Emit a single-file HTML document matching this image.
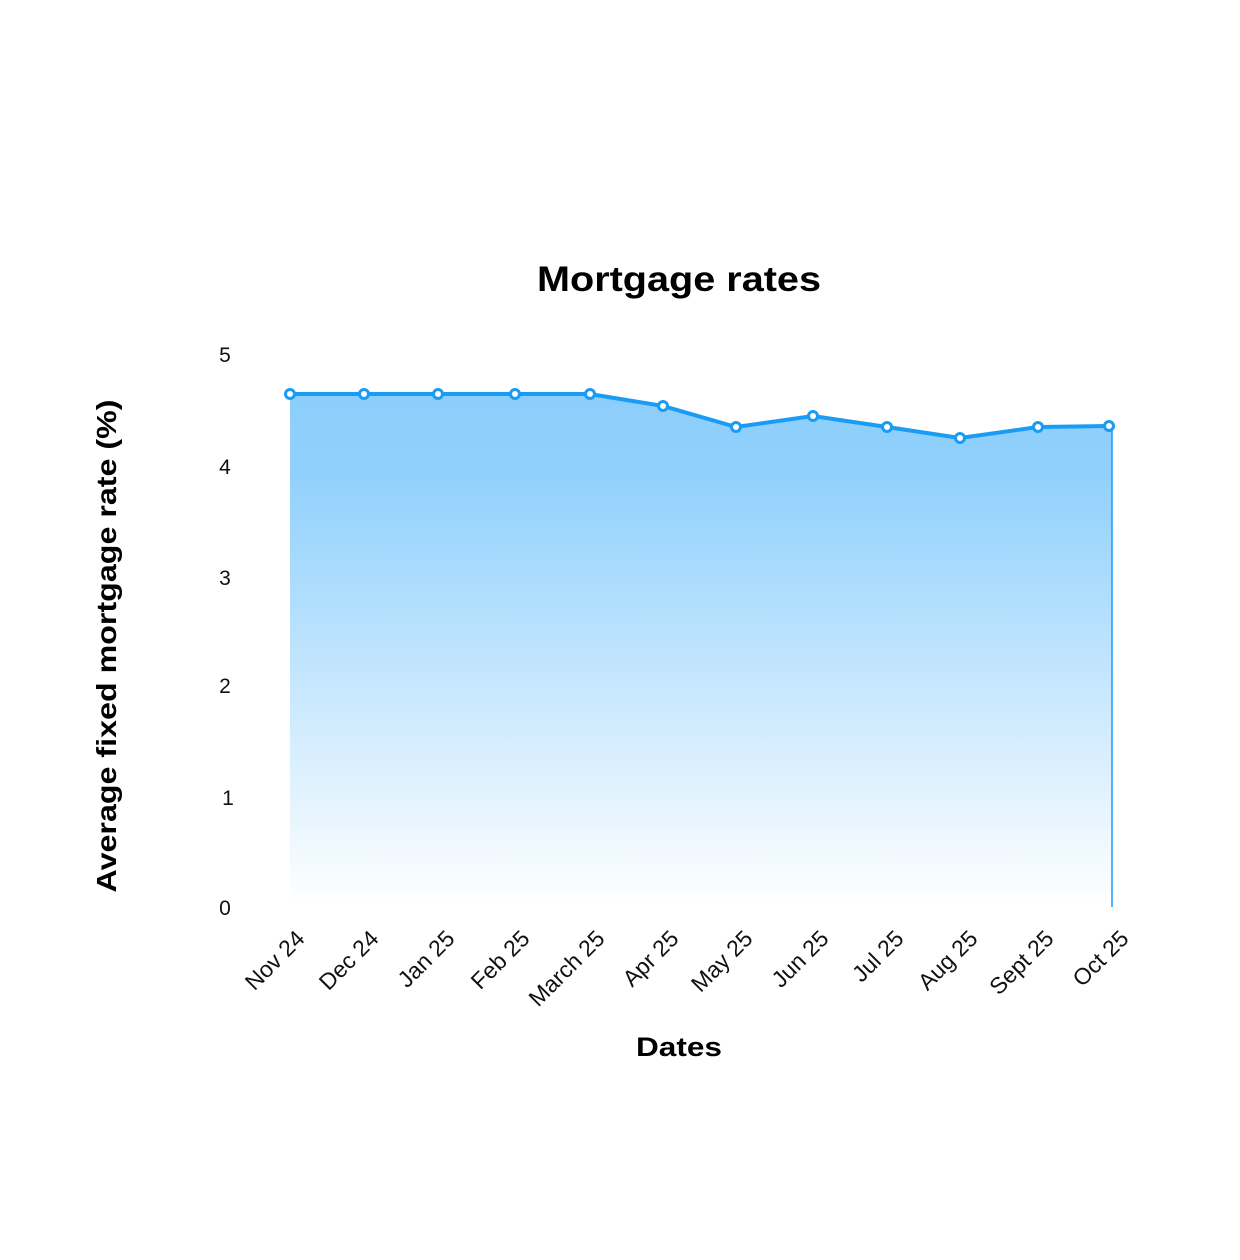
<!DOCTYPE html>
<html><head><meta charset="utf-8"><style>
html,body{margin:0;padding:0;background:#fff;}
svg text{font-family:"Liberation Sans",sans-serif;}
</style></head><body>
<svg width="1240" height="1255" viewBox="0 0 1240 1255" xmlns="http://www.w3.org/2000/svg">
<defs>
<linearGradient id="g" x1="0" y1="0" x2="0" y2="1">
<stop offset="0" stop-color="#8ccefb"/>
<stop offset="0.15" stop-color="#90d0fc"/>
<stop offset="1" stop-color="#ffffff"/>
</linearGradient>
</defs>
<text x="679" y="291" text-anchor="middle" font-size="35" font-weight="bold" fill="#000" textLength="284" lengthAdjust="spacingAndGlyphs">Mortgage rates</text>
<g font-size="21" fill="#111" text-anchor="middle">
<text x="225" y="362">5</text>
<text x="225" y="474">4</text>
<text x="225" y="585">3</text>
<text x="225" y="693">2</text>
<text x="228" y="805">1</text>
<text x="225" y="915">0</text>
</g>
<text transform="translate(116,646) rotate(-90)" text-anchor="middle" font-size="28" font-weight="bold" fill="#000" textLength="493" lengthAdjust="spacingAndGlyphs">Average fixed mortgage rate (%)</text>
<path d="M290,394 L364,394 L438,394 L515,394 L590,394 L663,406 L736,427 L813,416 L887,427 L960,438 L1038,427 L1112,426 L1112,907 L290,907 Z" fill="url(#g)"/>
<line x1="1112" y1="426" x2="1112" y2="907" stroke="#1a9cf5" stroke-width="1.5"/>
<polyline points="290,394 364,394 438,394 515,394 590,394 663,406 736,427 813,416 887,427 960,438 1038,427 1109,426" fill="none" stroke="#1a9cf5" stroke-width="4"/>
<g fill="#fff" stroke="#1a9cf5" stroke-width="3">
<circle cx="290" cy="394" r="4.5"/><circle cx="364" cy="394" r="4.5"/><circle cx="438" cy="394" r="4.5"/>
<circle cx="515" cy="394" r="4.5"/><circle cx="590" cy="394" r="4.5"/><circle cx="663" cy="406" r="4.5"/>
<circle cx="736" cy="427" r="4.5"/><circle cx="813" cy="416" r="4.5"/><circle cx="887" cy="427" r="4.5"/>
<circle cx="960" cy="438" r="4.5"/><circle cx="1038" cy="427" r="4.5"/><circle cx="1109" cy="426" r="4.5"/>
</g>
<g font-size="23" fill="#111" text-anchor="end">
<text transform="translate(306,940) rotate(-45)">Nov 24</text>
<text transform="translate(380,940) rotate(-45)">Dec 24</text>
<text transform="translate(456,940) rotate(-45)">Jan 25</text>
<text transform="translate(531,940) rotate(-45)">Feb 25</text>
<text transform="translate(606,940) rotate(-45)">March 25</text>
<text transform="translate(680,940) rotate(-45)">Apr 25</text>
<text transform="translate(754,940) rotate(-45)">May 25</text>
<text transform="translate(830,940) rotate(-45)">Jun 25</text>
<text transform="translate(905,940) rotate(-45)">Jul 25</text>
<text transform="translate(979,940) rotate(-45)">Aug 25</text>
<text transform="translate(1055,940) rotate(-45)">Sept 25</text>
<text transform="translate(1130,940) rotate(-45)">Oct 25</text>
</g>
<text x="679" y="1056" text-anchor="middle" font-size="27" font-weight="bold" fill="#000" textLength="86" lengthAdjust="spacingAndGlyphs">Dates</text>
</svg>
</body></html>
